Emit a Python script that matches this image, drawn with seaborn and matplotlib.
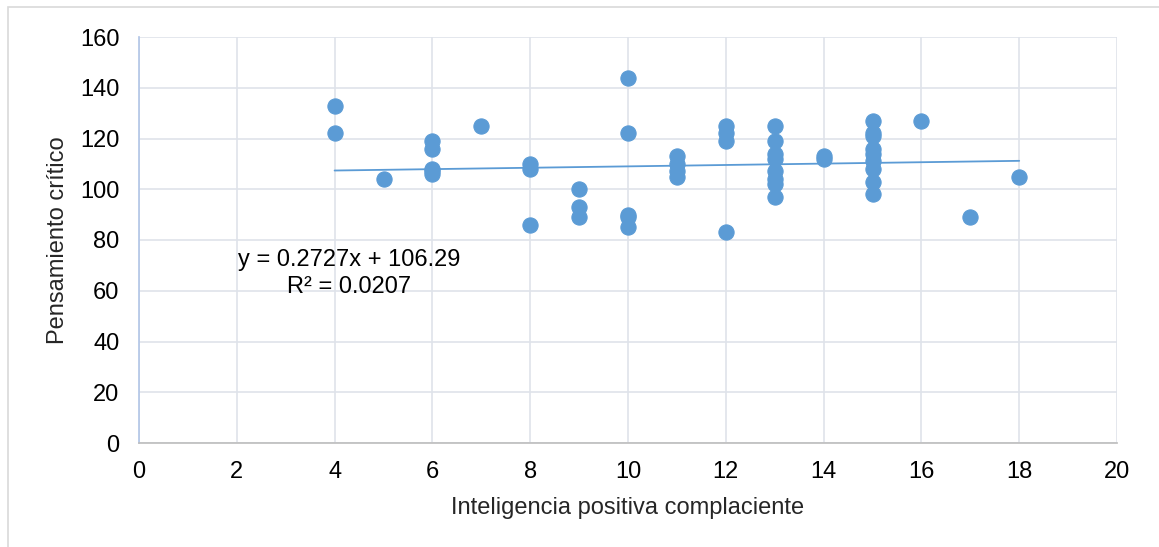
import matplotlib
matplotlib.use("Agg")
import matplotlib.pyplot as plt
import seaborn as sns
import numpy as np
import pandas as pd
from matplotlib.patches import Rectangle

# values
inteligencia = [4, 4, 5, 6, 6, 6, 6, 6, 7, 8, 8, 8, 9, 9, 9, 10, 10, 10, 10, 10,
                11, 11, 11, 11, 12, 12, 12, 12, 13, 13, 13, 13, 13, 13, 13, 13,
                14, 14, 15, 15, 15, 15, 15, 15, 15, 15, 15, 16, 17, 18]
pensamiento = [133, 122, 104, 119, 116, 108, 107, 106, 125, 110, 108, 86, 100, 93, 89,
               144, 122, 90, 89, 85, 113, 110, 107, 105, 125, 122, 119, 83,
               125, 119, 114, 112, 107, 104, 102, 97, 113, 112,
               127, 122, 121, 116, 114, 111, 108, 103, 98, 127, 89, 105]

# trend line as printed on the chart
slope = 0.2727
intercept = 106.29
r2 = 0.0207

df = pd.DataFrame({"x": inteligencia, "y": pensamiento})

sns.set_theme(style="white")
plt.rcParams["font.family"] = ["Liberation Sans", "DejaVu Sans"]

fig = plt.figure(figsize=(11.59, 5.47), dpi=100)
ax = fig.add_axes([139 / 1159, 1 - 443 / 547, 978 / 1159, 406 / 547])

# outer chart frame
fig.patches.append(Rectangle((8 / 1159, -0.1), 1.2, 1 - 7 / 547 + 0.1, transform=fig.transFigure,
                             fill=False, edgecolor="#d9d9d9", linewidth=1.2))

sns.scatterplot(data=df, x="x", y="y", ax=ax, color="#5b9bd5", s=120,
                edgecolor="#5b9bd5", linewidth=0.8, zorder=3)

xs = np.array([min(inteligencia), max(inteligencia)])
ax.plot(xs, slope * xs + intercept, color="#5b9bd5", linewidth=1.3, zorder=2)

ax.text(4.3, 72, f"y = {slope}x + {intercept}", ha="center", va="center", fontsize=17, color="#000000")
ax.text(4.3, 61.5, f"R² = {r2}", ha="center", va="center", fontsize=17, color="#000000")

ax.set_xlim(0, 20)
ax.set_ylim(0, 160)
ax.set_xticks(range(0, 21, 2))
ax.set_yticks(range(0, 161, 20))
ax.grid(True, color="#dfe3ea", linewidth=1.2)
ax.set_axisbelow(True)
for side in ["top", "right"]:
    ax.spines[side].set_visible(False)
ax.spines["left"].set_color("#b4c7e7")
ax.spines["bottom"].set_color("#bfbfbf")
ax.tick_params(axis="y", labelsize=17, colors="#000000", length=0, pad=14)
ax.tick_params(axis="x", labelsize=17, colors="#000000", length=0, pad=13)

ax.set_xlabel("Inteligencia positiva complaciente", fontsize=17, labelpad=10)
ax.set_ylabel("Pensamiento crítico", fontsize=17, labelpad=8)

fig.savefig("out.png", dpi=100)
